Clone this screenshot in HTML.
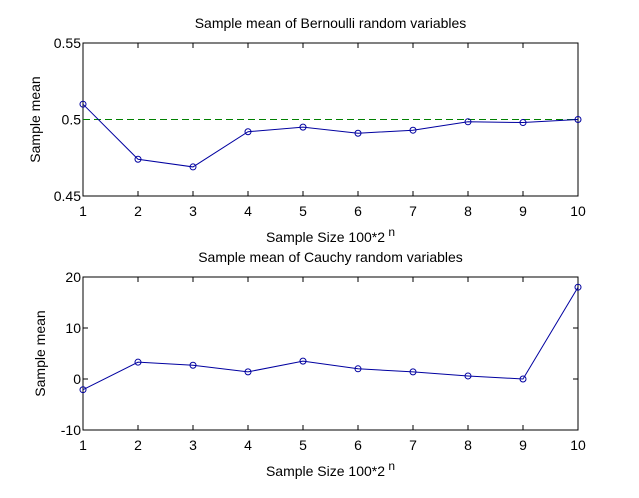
<!DOCTYPE html>
<html><head><meta charset="utf-8"><style>
body{margin:0;background:#fff;}
svg text{font-family:"Liberation Sans",sans-serif;font-size:14px;fill:#000;}
</style></head><body>
<svg id="c" width="639" height="493"></svg>
<script>
const categories=[1,2,3,4,5,6,7,8,9,10];
const bernoulliValues=[0.51,0.474,0.469,0.492,0.495,0.491,0.493,0.4985,0.498,0.5];
const cauchyValues=[-2.1,3.3,2.7,1.4,3.5,2.0,1.4,0.6,0.0,18.0];
const bernoulliTicks=[0.45,0.5,0.55];
const bernoulliTickLabels=["0.45","0.5","0.55"];
const cauchyTicks=[-10,0,10,20];
const cauchyTickLabels=["-10","0","10","20"];
const bernoulliRef=0.5;
const svg=document.getElementById('c');
const NS='http://www.w3.org/2000/svg';
function mk(t,a,p){const e=document.createElementNS(NS,t);for(const k in a)e.setAttribute(k,a[k]);(p||svg).appendChild(e);return e;}
function panel(name,top,bottom,ymin,ymax,vals,yt,ytl,title,ref){
  const L=83,R=578;
  const g=mk('g',{});
  
  
  const sx=v=>L+(v-1)/(9)*(R-L);
  const sy=v=>bottom-(v-ymin)/(ymax-ymin)*(bottom-top);
  const box=mk('rect',{x:L,y:top,width:R-L,height:bottom-top,fill:'none',stroke:'#000','stroke-width':1},g);
  
  
  categories.forEach(c=>{
    const x=sx(c);
    mk('line',{x1:x,x2:x,y1:bottom,y2:bottom-5,stroke:'#000'},g);
    mk('line',{x1:x,x2:x,y1:top,y2:top+5,stroke:'#000'},g);
    const t=mk('text',{x:x,y:bottom+20,'text-anchor':'middle'},g);t.textContent=c;
    
    
  });
  yt.forEach((v,i)=>{
    const y=sy(v);
    mk('line',{x1:L,x2:L+5,y1:y,y2:y,stroke:'#000'},g);
    mk('line',{x1:R,x2:R-5,y1:y,y2:y,stroke:'#000'},g);
    const t=mk('text',{x:L-2,y:y+5,'text-anchor':'end'},g);t.textContent=ytl[i];
    
    
  });
  if(ref!==null){
    const l=mk('line',{x1:L,x2:R,y1:sy(ref),y2:sy(ref),stroke:'#008000','stroke-dasharray':'7,4'},g);
    
    
  }
  const p=mk('polyline',{points:vals.map((v,i)=>sx(categories[i])+','+sy(v)).join(' '),fill:'none',stroke:'#0000a0'},g);
  
  
  vals.forEach((v,i)=>{
    const c=mk('circle',{cx:sx(categories[i]),cy:sy(v),r:3,fill:'none',stroke:'#0000a0'},g);
    
    
  });
  const tt=mk('text',{x:(L+R)/2,y:top-15,'text-anchor':'middle'},g);tt.textContent=title;
  
  
  const xl=mk('text',{x:(L+R)/2,y:bottom+46,'text-anchor':'middle'},g);
  xl.innerHTML='Sample Size 100*2<tspan dy="-6" font-size="12"> n</tspan>';
  
  
  const yl=mk('text',{x:0,y:0,'text-anchor':'middle',transform:`translate(${top<100?40:45},${(top+bottom)/2}) rotate(-90)`},g);
  yl.textContent='Sample mean';
  
  
}
panel('bernoulli-panel',43,196,0.45,0.55,bernoulliValues,bernoulliTicks,bernoulliTickLabels,'Sample mean of Bernoulli random variables',bernoulliRef);
panel('cauchy-panel',277,430,-10,20,cauchyValues,cauchyTicks,cauchyTickLabels,'Sample mean of Cauchy random variables',null);
</script>
</body></html>
